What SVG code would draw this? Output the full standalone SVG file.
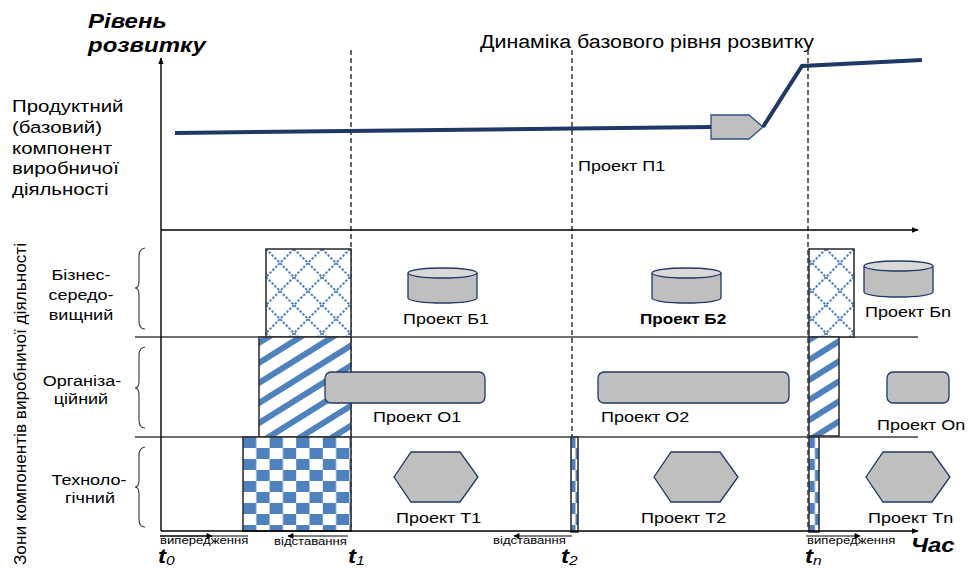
<svg xmlns="http://www.w3.org/2000/svg" width="968" height="568" viewBox="0 0 968 568">
<style>
  text { font-family: "Liberation Sans", Arial, sans-serif; fill: #000; }
  .lbl { font-size: 17px; }
  .zone { font-size: 15px; text-anchor: middle; }
  .proj { font-size: 15px; }
  .small { font-size: 10.5px; }
  .title { font-size: 20px; font-weight: bold; font-style: italic; }
  .t { font-size: 20px; font-weight: bold; font-style: italic; }
  .sub { font-size: 13px; font-weight: normal; }
  .axis { stroke: #000; stroke-width: 1.4; fill: none; }
  .sep { stroke: #404040; stroke-width: 1.4; }
  .dash { stroke: #000; stroke-width: 1.2; stroke-dasharray: 5 3; fill: none; }
  .brace { stroke: #333; stroke-width: 1.1; fill: none; }
  .shape { fill: #BFBFBF; stroke: #1F3864; stroke-width: 1.3; }
  .col { stroke: #333; stroke-width: 1.6; }
  .trend { stroke: #1F3864; stroke-width: 4; fill: none; stroke-linejoin: miter; }
  .thin { stroke: #000; stroke-width: 1; fill: none; }
</style>
<defs>
  <marker id="arr" viewBox="0 0 10 10" refX="9" refY="5" markerWidth="7" markerHeight="7" orient="auto" markerUnits="userSpaceOnUse">
    <path d="M0,1 L10,5 L0,9 Z" fill="#000"/>
  </marker>
  <marker id="arrS" viewBox="0 0 10 10" refX="9" refY="5" markerWidth="8" markerHeight="6" orient="auto" markerUnits="userSpaceOnUse">
    <path d="M0,0 L10,5 L0,10 Z" fill="#000"/>
  </marker>
  <pattern id="checker" patternUnits="userSpaceOnUse" x="243" y="437" width="26.6" height="22">
    <rect width="26.6" height="22" fill="#fff"/>
    <rect width="13.3" height="11" fill="#4F81BD"/>
    <rect x="13.3" y="11" width="13.3" height="11" fill="#4F81BD"/>
  </pattern>
  <pattern id="stripes" patternUnits="userSpaceOnUse" width="20" height="17" patternTransform="rotate(-32)">
    <rect width="20" height="17" fill="#fff"/>
    <rect width="20" height="6" fill="#4F81BD"/>
  </pattern>
  <pattern id="lattice" patternUnits="userSpaceOnUse" x="266" y="249" width="28" height="28">
    <rect width="28" height="28" fill="#fff"/>
    <path d="M0,0 L28,28 M28,0 L0,28" stroke="#4F81BD" stroke-width="2" stroke-dasharray="2.5 1.5"/>
  </pattern>
  <g id="hex"><path d="M0,25 L17,0 L66,0 L84,25 L66,50 L17,50 Z"/></g>
</defs>

<rect width="968" height="568" fill="#fff"/>

<!-- period boundaries -->
<g id="boundaries">
  <line class="dash" x1="351" y1="50" x2="351" y2="531"/>
  <line class="dash" x1="572" y1="50" x2="572" y2="531"/>
  <line class="dash" x1="808" y1="50" x2="808" y2="531"/>
</g>

<!-- zone separators -->
<g id="separators">
  <line class="sep" x1="135" y1="337" x2="918" y2="337"/>
  <line class="sep" x1="135" y1="437" x2="918" y2="437"/>
</g>

<!-- axis titles and left captions -->
<g id="axis-title">
  <text class="title" transform="translate(88 28) scale(1.2 1)">Рівень</text>
  <text class="title" transform="translate(88 52) scale(1.2 1)">розвитку</text>
</g>
<g id="product-label">
  <text class="lbl" transform="translate(12 112) scale(1.2 1)">Продуктний</text>
  <text class="lbl" transform="translate(12 133) scale(1.2 1)">(базовий)</text>
  <text class="lbl" transform="translate(12 154) scale(1.2 1)">компонент</text>
  <text class="lbl" transform="translate(12 174) scale(1.2 1)">виробничої</text>
  <text class="lbl" transform="translate(12 195) scale(1.2 1)">діяльності</text>
</g>
<g id="zones-label">
  <text font-size="17" text-anchor="middle" textLength="322" lengthAdjust="spacingAndGlyphs" transform="translate(26 404) rotate(-90)">Зони компонентів виробничої діяльності</text>
</g>
<g id="dynamics-label">
  <text font-size="17.8" transform="translate(480 48) scale(1.2 1)">Динаміка базового рівня розвитку</text>
</g>

<!-- zone captions with braces -->
<g id="zone-business">
  <path class="brace" d="M145,248 Q139,249 139,256 L139,281 Q139,288 135,288 Q139,288 139,295 L139,321 Q139,329 145,329"/>
  <text class="zone" transform="translate(81 280) scale(1.2 1)">Бізнес-</text>
  <text class="zone" transform="translate(81 300) scale(1.2 1)">середо-</text>
  <text class="zone" transform="translate(81 320) scale(1.2 1)">вищний</text>
</g>
<g id="zone-organisational">
  <path class="brace" d="M145,347 Q139,348 139,355 L139,381 Q139,388 135,388 Q139,388 139,395 L139,420 Q139,428 145,428"/>
  <text class="zone" transform="translate(82 386) scale(1.2 1)">Організа-</text>
  <text class="zone" transform="translate(81 404) scale(1.2 1)">ційний</text>
</g>
<g id="zone-technological">
  <path class="brace" d="M145,447 Q139,448 139,455 L139,480 Q139,487 135,487 Q139,487 139,494 L139,519 Q139,527 145,527"/>
  <text class="zone" transform="translate(89 485) scale(1.2 1)">Техноло-</text>
  <text class="zone" transform="translate(90 503) scale(1.2 1)">гічний</text>
</g>

<!-- transition columns -->
<g id="transition-t1">
  <rect class="col" x="266" y="249" width="85" height="88" fill="url(#lattice)"/>
  <rect class="col" x="259" y="337" width="92" height="100" fill="url(#stripes)"/>
  <rect class="col" x="243" y="437" width="108" height="94" fill="url(#checker)"/>
</g>
<g id="transition-t2">
  <rect class="col" x="571" y="437" width="7" height="95" fill="url(#checker)"/>
</g>
<g id="transition-tn">
  <rect class="col" x="809" y="249" width="45" height="88" fill="url(#lattice)"/>
  <rect class="col" x="809" y="337" width="30" height="99" fill="url(#stripes)"/>
  <rect class="col" x="809" y="437" width="10" height="95" fill="url(#checker)"/>
</g>

<!-- business-environment projects -->
<g id="project-b1">
  <path class="shape" d="M408,273 L408,298 A34.5,5 0 0 0 477,298 L477,273"/>
  <ellipse class="shape" cx="442.5" cy="273" rx="34.5" ry="5" style="fill:#D9D9D9"/>
  <text class="proj" transform="translate(403 324) scale(1.2 1)">Проект Б1</text>
</g>
<g id="project-b2">
  <path class="shape" d="M652,273 L652,298 A34.5,5 0 0 0 721,298 L721,273"/>
  <ellipse class="shape" cx="686.5" cy="273" rx="34.5" ry="5" style="fill:#D9D9D9"/>
  <text class="proj" font-weight="bold" transform="translate(640 324) scale(1.14 1)">Проект Б2</text>
</g>
<g id="project-bn">
  <path class="shape" d="M864,266 L864,292 A34.5,5 0 0 0 933,292 L933,266"/>
  <ellipse class="shape" cx="898.5" cy="266" rx="34.5" ry="5" style="fill:#D9D9D9"/>
  <text class="proj" transform="translate(865 317) scale(1.2 1)">Проект Бn</text>
</g>

<!-- organisational projects -->
<g id="project-o1">
  <rect class="shape" x="325" y="372" width="160" height="31" rx="6"/>
  <text class="proj" transform="translate(373 422) scale(1.2 1)">Проект О1</text>
</g>
<g id="project-o2">
  <rect class="shape" x="598" y="372" width="191" height="31" rx="6"/>
  <text class="proj" transform="translate(601 422) scale(1.2 1)">Проект О2</text>
</g>
<g id="project-on">
  <rect class="shape" x="887" y="372" width="62" height="31" rx="6"/>
  <text class="proj" transform="translate(877 430) scale(1.2 1)">Проект On</text>
</g>

<!-- technological projects -->
<g id="project-t1">
  <use href="#hex" class="shape" transform="translate(394 452)"/>
  <text class="proj" transform="translate(396 523) scale(1.2 1)">Проект Т1</text>
</g>
<g id="project-t2">
  <use href="#hex" class="shape" transform="translate(654 452)"/>
  <text class="proj" transform="translate(641 523) scale(1.2 1)">Проект Т2</text>
</g>
<g id="project-tn">
  <use href="#hex" class="shape" transform="translate(866 452)"/>
  <text class="proj" transform="translate(868 523) scale(1.2 1)">Проект Тn</text>
</g>

<!-- base product project -->
<g id="project-p1">
  <path class="shape" d="M711,115 L749,115 L763,127 L749,139 L711,139 Z" style="stroke:#2F4F7F"/>
  <text class="proj" transform="translate(578 171) scale(1.2 1)">Проект П1</text>
</g>

<!-- connectors: axes, base-level trend, lead/lag arrows -->
<g id="connectors">
  <line class="axis" x1="161" y1="531" x2="161" y2="58" marker-end="url(#arr)"/>
  <line class="axis" x1="161" y1="230" x2="918" y2="230" marker-end="url(#arr)"/>
  <line class="axis" x1="161" y1="531" x2="918" y2="531" marker-end="url(#arr)"/>

  <polyline class="trend" points="175,133 711,127"/>
  <polyline class="trend" points="763,127 802,66 922,60"/>

  <line class="thin" x1="160" y1="536" x2="248" y2="536"/>
  <line class="thin" x1="160" y1="536" x2="212" y2="536" marker-end="url(#arrS)"/>
  <line class="thin" x1="348" y1="536" x2="288" y2="536" marker-end="url(#arrS)"/>
  <line class="thin" x1="572" y1="536" x2="514" y2="536" marker-end="url(#arrS)"/>
  <line class="thin" x1="806" y1="536" x2="860" y2="536" marker-end="url(#arrS)"/>
</g>

<!-- time marks -->
<g id="time-marks">
  <text class="small" transform="translate(160 544) scale(1.25 1)">випередження</text>
  <text class="small" transform="translate(274 545) scale(1.25 1)">відставання</text>
  <text class="small" transform="translate(493 544) scale(1.25 1)">відставання</text>
  <text class="small" transform="translate(807 544) scale(1.25 1)">випередження</text>

  <text class="t" transform="translate(158 563) scale(1.2 1)">t<tspan class="sub" dy="2">0</tspan></text>
  <text class="t" transform="translate(348 563) scale(1.2 1)">t<tspan class="sub" dy="2">1</tspan></text>
  <text class="t" transform="translate(561 563) scale(1.2 1)">t<tspan class="sub" dy="2">2</tspan></text>
  <text class="t" transform="translate(805 563) scale(1.2 1)">t<tspan class="sub" dy="2">n</tspan></text>
  <text class="title" transform="translate(911 552) scale(1.2 1)">Час</text>
</g>
</svg>
